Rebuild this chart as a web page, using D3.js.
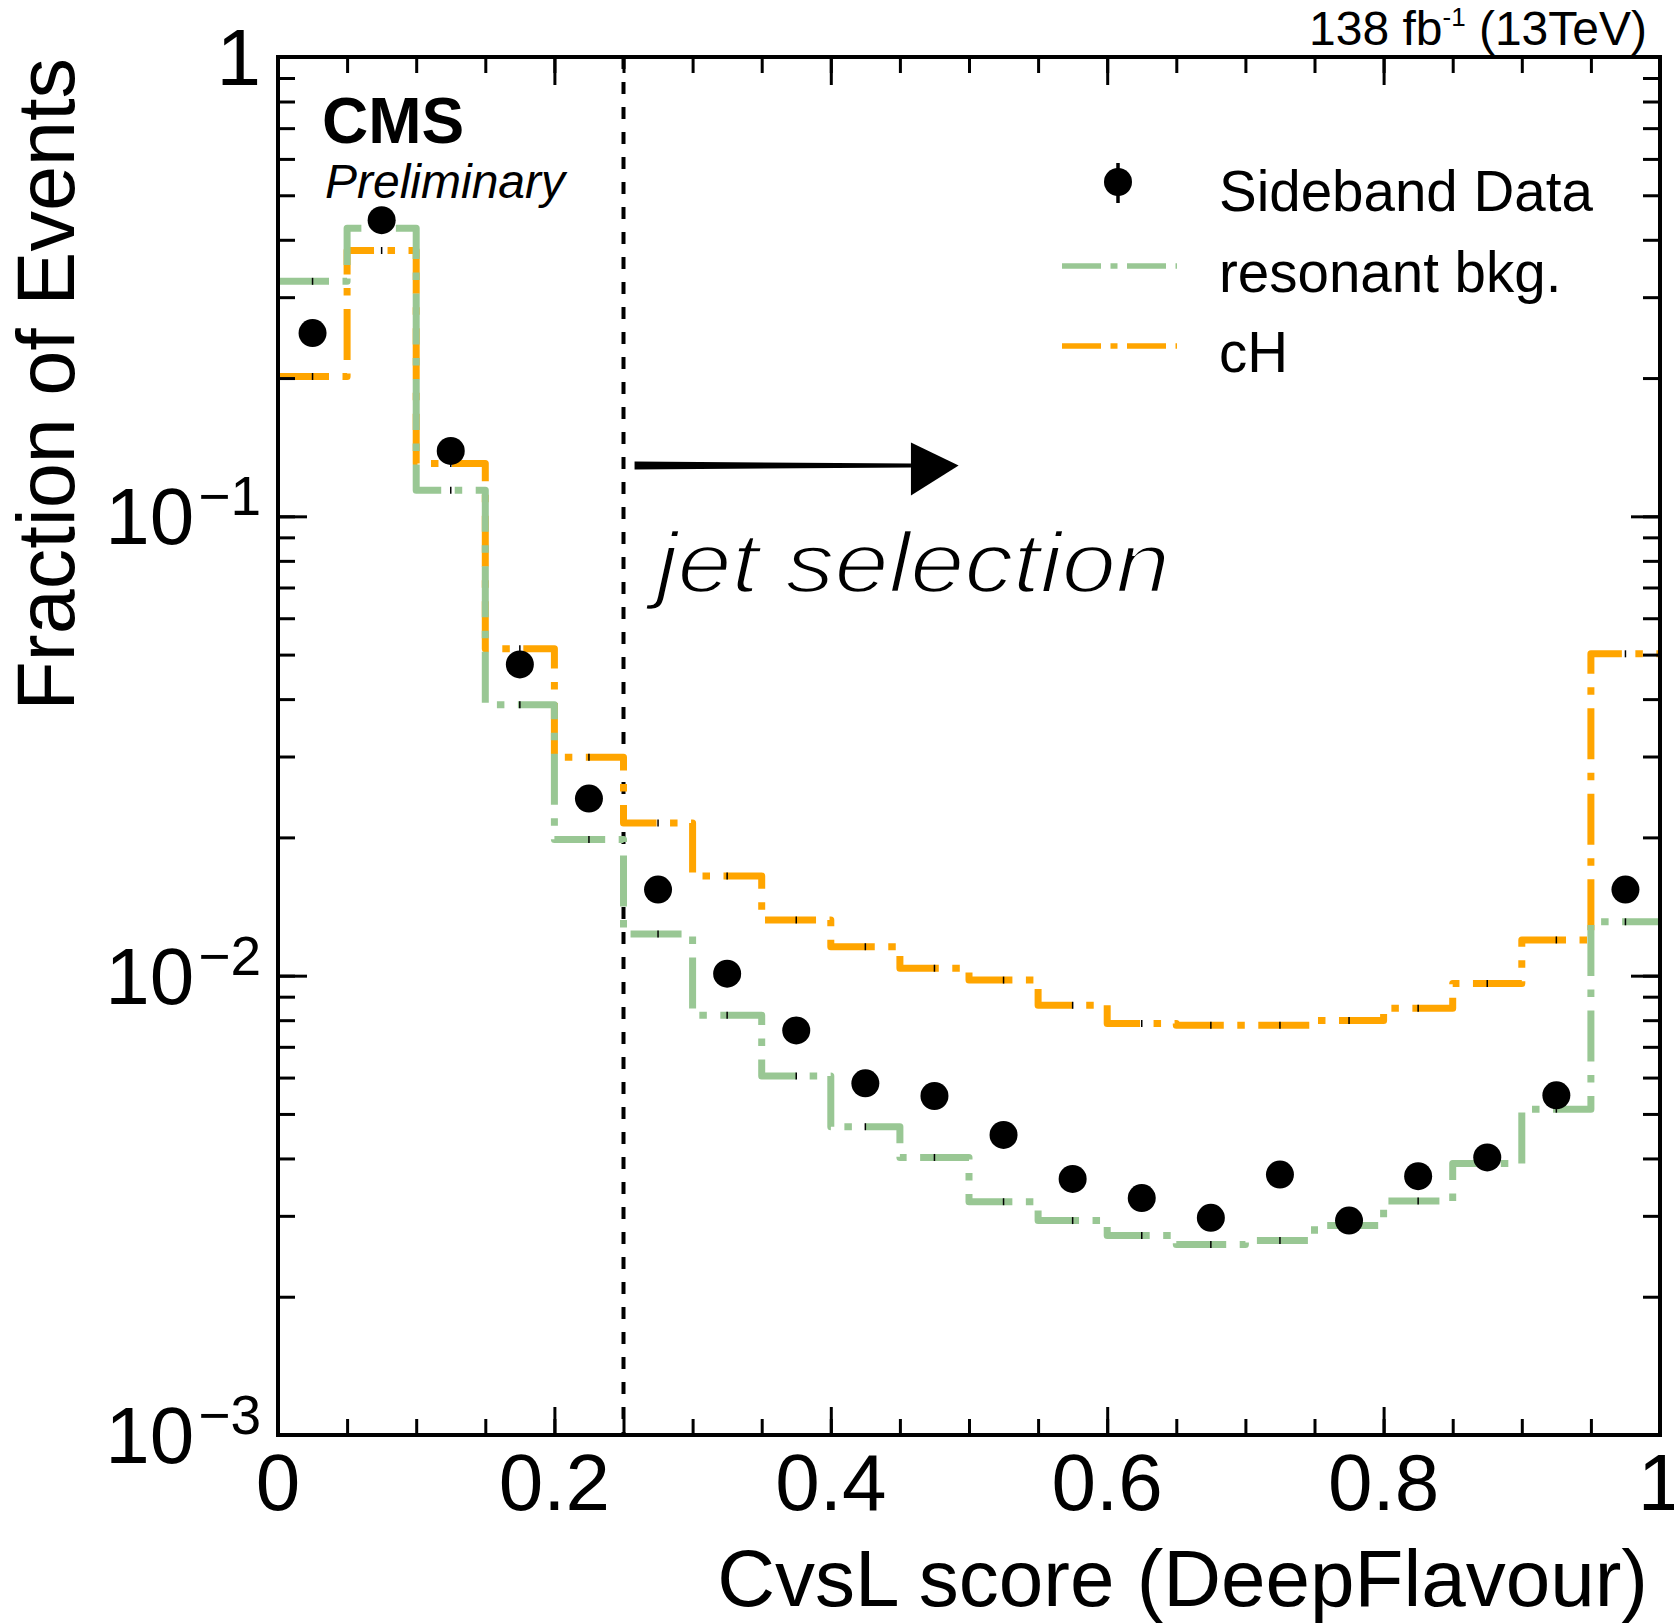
<!DOCTYPE html>
<html>
<head>
<meta charset="utf-8">
<script src="https://cdn.jsdelivr.net/npm/d3@7"></script>
<style>
body { margin: 0; background: #fff; }
svg text { font-family: "Liberation Sans", Arial, Helvetica, sans-serif; fill: #000; }
</style>
</head>
<body>
<svg id="chart" width="1674" height="1624"></svg>
<script>
// bins of the CvsL score
const binLow = [0, 0.05, 0.1, 0.15, 0.2, 0.25, 0.3, 0.35, 0.4, 0.45,
                0.5, 0.55, 0.6, 0.65, 0.7, 0.75, 0.8, 0.85, 0.9, 0.95];
const binWidth = 0.05;

const sidebandData = [0.2506, 0.4413, 0.1388, 0.0476, 0.0243, 0.0154, 0.0101, 0.0076, 0.00583, 0.00547,
                      0.0045, 0.00361, 0.00328, 0.00297, 0.00369, 0.00293, 0.00366, 0.00402, 0.00549, 0.0154];
const resonantBkg = [0.3248, 0.4239, 0.1139, 0.0389, 0.0198, 0.01232, 0.0082, 0.00605, 0.00469, 0.00402,
                     0.00322, 0.00293, 0.00272, 0.0026, 0.00265, 0.00286, 0.00323, 0.0039, 0.00512, 0.0131];
const cHSignal = [0.2016, 0.3791, 0.1303, 0.0515, 0.0299, 0.0215, 0.01648, 0.01322, 0.01156, 0.01038,
                  0.00978, 0.00862, 0.00787, 0.0078, 0.0078, 0.00799, 0.00849, 0.00962, 0.01196, 0.0502];

const xMajorTicks = [0, 0.2, 0.4, 0.6, 0.8, 1];
const xTickLabels = ["0", "0.2", "0.4", "0.6", "0.8", "1"];
const yMajorTicks = [1, 0.1, 0.01, 0.001];
const yTickExp = ["", "\u22121", "\u22122", "\u22123"];
const legendLabels = ["Sideband Data", "resonant bkg.", "cH"];
const cutValue = 0.25;

const green = "#99c794";
const orange = "#ffa500";

const svg = d3.select("#chart");
const frame = { left: 278, right: 1660, top: 57, bottom: 1435 };

const x = d3.scaleLinear().domain([0, 1]).range([frame.left, frame.right]);
const y = d3.scaleLog().domain([1e-3, 1]).range([frame.bottom, frame.top]);

svg.append("rect").attr("width", 1674).attr("height", 1624).attr("fill", "white");

// cut line
svg.append("line")
    .attr("x1", x(cutValue)).attr("x2", x(cutValue))
    .attr("y1", frame.top).attr("y2", frame.bottom)
    .attr("stroke", "#000").attr("stroke-width", 4)
    .attr("stroke-dasharray", "12,13");

// step histograms
function stepPoints(vals) {
    const pts = binLow.map((b, i) => [b, vals[i]]);
    pts.push([binLow[binLow.length - 1] + binWidth, vals[vals.length - 1]]);
    return pts;
}
const step = d3.line()
    .x(d => x(d[0]))
    .y(d => y(d[1]))
    .curve(d3.curveStepAfter);

[[cHSignal, orange], [resonantBkg, green]].forEach(([vals, col]) => {
    svg.append("path")
        .attr("d", step(stepPoints(vals)))
        .attr("fill", "none")
        .attr("stroke", col)
        .attr("stroke-width", 7)
        .attr("stroke-linejoin", "round")
        .attr("stroke-dasharray", "51,13.5,7.5,13.5");
    // tiny error marks at bin centres
    svg.append("g").selectAll("line").data(vals).join("line")
        .attr("x1", (d, i) => x(binLow[i] + binWidth / 2))
        .attr("x2", (d, i) => x(binLow[i] + binWidth / 2))
        .attr("y1", d => y(d) - 3.5)
        .attr("y2", d => y(d) + 3.5)
        .attr("stroke", "#000").attr("stroke-width", 1.5);
});

// data points
svg.append("g").selectAll("circle").data(sidebandData).join("circle")
    .attr("cx", (d, i) => x(binLow[i] + binWidth / 2))
    .attr("cy", d => y(d))
    .attr("r", 14)
    .attr("fill", "#000");

// axes: ticks pointing inwards on all four sides
function styleAxis(g) {
    g.select(".domain").remove();
    g.selectAll("line").attr("stroke", "#000").attr("stroke-width", 3);
    g.selectAll("text").remove();
}
const xMinor = binLow.concat([1]);
svg.append("g").attr("transform", `translate(0,${frame.bottom})`)
    .call(d3.axisBottom(x).tickValues(xMinor).tickSize(-16)).call(styleAxis);
svg.append("g").attr("transform", `translate(0,${frame.bottom})`)
    .call(d3.axisBottom(x).tickValues(xMajorTicks).tickSize(-28)).call(styleAxis);
svg.append("g").attr("transform", `translate(0,${frame.top})`)
    .call(d3.axisTop(x).tickValues(xMinor).tickSize(-16)).call(styleAxis);
svg.append("g").attr("transform", `translate(0,${frame.top})`)
    .call(d3.axisTop(x).tickValues(xMajorTicks).tickSize(-28)).call(styleAxis);

const yMinor = y.ticks();
svg.append("g").attr("transform", `translate(${frame.left},0)`)
    .call(d3.axisLeft(y).tickValues(yMinor).tickSize(-17)).call(styleAxis);
svg.append("g").attr("transform", `translate(${frame.left},0)`)
    .call(d3.axisLeft(y).tickValues(yMajorTicks).tickSize(-29)).call(styleAxis);
svg.append("g").attr("transform", `translate(${frame.right},0)`)
    .call(d3.axisRight(y).tickValues(yMinor).tickSize(-17)).call(styleAxis);
svg.append("g").attr("transform", `translate(${frame.right},0)`)
    .call(d3.axisRight(y).tickValues(yMajorTicks).tickSize(-29)).call(styleAxis);

svg.append("rect")
    .attr("x", frame.left).attr("y", frame.top)
    .attr("width", frame.right - frame.left)
    .attr("height", frame.bottom - frame.top)
    .attr("fill", "none").attr("stroke", "#000").attr("stroke-width", 4);

// tick labels
svg.append("g").selectAll("text").data(xMajorTicks).join("text")
    .attr("x", d => x(d))
    .attr("y", frame.bottom + 75)
    .attr("text-anchor", "middle")
    .attr("font-size", 80)
    .text((d, i) => xTickLabels[i]);

const yLab = svg.append("g").selectAll("text").data(yMajorTicks).join("text")
    .attr("x", frame.left - 17)
    .attr("y", d => y(d) + 28)
    .attr("text-anchor", "end")
    .attr("font-size", 80);
yLab.append("tspan").text((d, i) => yTickExp[i] ? "10" : "1");
yLab.filter((d, i) => yTickExp[i] !== "")
    .append("tspan")
    .attr("font-size", 55)
    .attr("dy", -29)
    .attr("dx", 4)
    .text(d => yTickExp[yMajorTicks.indexOf(d)]);

// axis titles
svg.append("text")
    .attr("x", 1648).attr("y", 1606)
    .attr("text-anchor", "end")
    .attr("font-size", 80)
    .text("CvsL score (DeepFlavour)");
svg.append("text")
    .attr("transform", "translate(74,58) rotate(-90)")
    .attr("text-anchor", "end")
    .attr("font-size", 81)
    .text("Fraction of Events");

// CMS labels
svg.append("text").attr("x", 322).attr("y", 143)
    .attr("font-size", 64).attr("font-weight", "bold").text("CMS");
svg.append("text").attr("x", 325).attr("y", 198)
    .attr("font-size", 48).attr("font-style", "italic").text("Preliminary");
const lumi = svg.append("text").attr("x", 1647).attr("y", 45)
    .attr("text-anchor", "end").attr("font-size", 48);
lumi.append("tspan").text("138 fb");
lumi.append("tspan").attr("font-size", 26).attr("dy", -19).text("-1");
lumi.append("tspan").attr("dy", 19).text(" (13TeV)");

// legend
const legendBase = [211, 292, 372];
const leg = svg.append("g");
leg.selectAll("text").data(legendLabels).join("text")
    .attr("x", 1219).attr("y", (d, i) => legendBase[i])
    .attr("font-size", 56.5)
    .text(d => d);
leg.append("line")
    .attr("x1", 1118).attr("x2", 1118)
    .attr("y1", legendBase[0] - 48).attr("y2", legendBase[0] - 8)
    .attr("stroke", "#000").attr("stroke-width", 3.5);
leg.append("circle")
    .attr("cx", 1118).attr("cy", legendBase[0] - 29).attr("r", 14).attr("fill", "#000");
[green, orange].forEach((col, i) => {
    leg.append("line")
        .attr("x1", 1062).attr("x2", 1177)
        .attr("y1", legendBase[i + 1] - 26).attr("y2", legendBase[i + 1] - 26)
        .attr("stroke", col).attr("stroke-width", 5.5)
        .attr("stroke-dasharray", "39,9.5,7,9.5");
});

// jet selection annotation
const arrowFrom = 0.258, arrowBase = 0.458, arrowTo = 0.4925, arrowY = 0.129;
const ay = y(arrowY);
svg.append("path")
    .attr("d", `M${x(arrowFrom)},${ay - 4} L${x(arrowBase)},${ay - 2} L${x(arrowBase)},${ay + 2} L${x(arrowFrom)},${ay + 4} Z`)
    .attr("fill", "#000");
svg.append("path")
    .attr("d", `M${x(arrowBase)},${ay - 23} L${x(arrowTo)},${ay} L${x(arrowBase)},${ay + 30} Z`)
    .attr("fill", "#000");
svg.append("text")
    .attr("x", 656).attr("y", 592)
    .attr("font-family", "Lato, 'Open Sans', sans-serif")
    .attr("font-style", "italic").attr("font-weight", 200)
    .attr("font-size", 86)
    .attr("textLength", 514).attr("lengthAdjust", "spacingAndGlyphs")
    .attr("stroke", "#fff").attr("stroke-width", 2.5)
    .text("jet selection");
</script>
</body>
</html>
